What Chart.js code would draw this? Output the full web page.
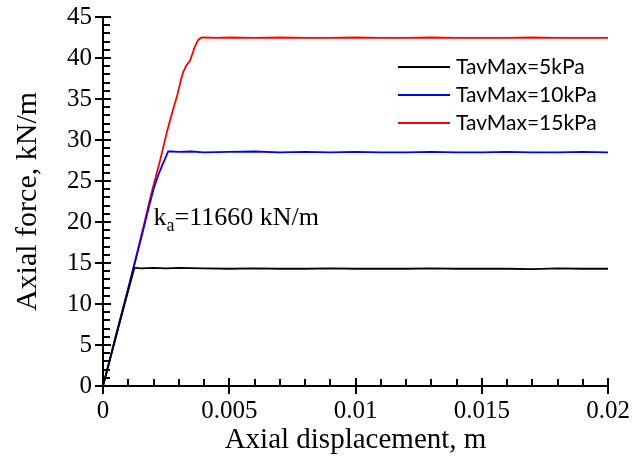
<!DOCTYPE html>
<html>
<head>
<meta charset="utf-8">
<script src="https://cdn.jsdelivr.net/npm/chart.js@4/dist/chart.umd.min.js"></script>
<style>
  html, body { margin: 0; padding: 0; background: #fff; }
  #wrap { width: 632px; height: 460px; }
</style>
</head>
<body>
<div id="wrap"><canvas id="c" width="632" height="460"></canvas></div>
<script>
// ── data ──
const seriesNames = ['TavMax=5kPa', 'TavMax=10kPa', 'TavMax=15kPa'];
const seriesColors = ['#000000', '#0000ff', '#ff0000'];

const disp5 = [0, 0.0003, 0.0006, 0.0009, 0.00124, 0.0013, 0.0015, 0.002, 0.0025, 0.003, 0.004, 0.005, 0.006, 0.007, 0.008, 0.009, 0.01, 0.011, 0.012, 0.013, 0.014, 0.015, 0.016, 0.017, 0.018, 0.019, 0.02];
const force5 = [0, 3.5, 7.0, 10.5, 14.4, 14.4, 14.35, 14.4, 14.35, 14.4, 14.35, 14.3, 14.35, 14.3, 14.3, 14.35, 14.3, 14.3, 14.3, 14.35, 14.3, 14.3, 14.3, 14.25, 14.35, 14.3, 14.3];

const disp10 = [0, 0.0005, 0.001, 0.0015, 0.0018, 0.002, 0.0022, 0.0024, 0.00258, 0.0027, 0.003, 0.0035, 0.004, 0.005, 0.006, 0.007, 0.008, 0.009, 0.01, 0.011, 0.012, 0.013, 0.014, 0.015, 0.016, 0.017, 0.018, 0.019, 0.02];
const force10 = [0, 6.0, 11.9, 17.9, 21.6, 24.0, 25.8, 27.3, 28.6, 28.6, 28.55, 28.6, 28.5, 28.55, 28.6, 28.5, 28.55, 28.5, 28.55, 28.5, 28.5, 28.55, 28.5, 28.5, 28.55, 28.5, 28.5, 28.55, 28.5];

const disp15 = [0, 0.0005, 0.001, 0.0013, 0.0016, 0.0019, 0.00226, 0.00255, 0.0028, 0.00292, 0.0031, 0.00318, 0.0033, 0.00345, 0.00364, 0.00377, 0.0039, 0.004, 0.0045, 0.005, 0.006, 0.007, 0.008, 0.009, 0.01, 0.011, 0.012, 0.013, 0.014, 0.015, 0.016, 0.017, 0.018, 0.019, 0.02];
const force15 = [0, 6.0, 11.9, 15.6, 19.4, 23.3, 27.5, 31.2, 34.0, 35.2, 37.5, 38.3, 39.1, 39.7, 41.4, 42.2, 42.5, 42.5, 42.45, 42.5, 42.45, 42.5, 42.45, 42.45, 42.5, 42.45, 42.45, 42.5, 42.45, 42.45, 42.45, 42.5, 42.45, 42.45, 42.45];

const xTicks = [0, 0.005, 0.01, 0.015, 0.02];
const yTicks = [0, 5, 10, 15, 20, 25, 30, 35, 40, 45];
const kaNote = { x: 0.002, y: 19.6, main: 'k', sub: 'a', rest: '=11660 kN/m' };

const serif = '"Liberation Serif", "Times New Roman", serif';
const sans = 'Lato, "Liberation Sans", sans-serif';

function pts(xs, ys) { return xs.map((x, i) => ({ x: x, y: ys[i] })); }

// axes with major ticks crossing and minor ticks inside
const axesPlugin = {
  id: 'axesDraw',
  afterDraw(chart) {
    const { ctx, scales: { x, y } } = chart;
    const x0 = Math.round(x.getPixelForValue(0)), x1 = Math.round(x.getPixelForValue(0.02));
    const y0 = Math.round(y.getPixelForValue(0)), y1 = Math.round(y.getPixelForValue(45));
    ctx.save();
    ctx.fillStyle = '#000';
    ctx.fillRect(x0 - 1, y1 - 1, 2, y0 - y1 + 2);
    ctx.fillRect(x0 - 1, y0 - 1, x1 - x0 + 2, 2);
    for (let v = 0; v <= 45; v++) {
      const py = Math.round(y.getPixelForValue(v));
      if (v % 5 === 0) ctx.fillRect(x0 - 8, py - 1, 16, 2);
      else ctx.fillRect(x0, py - 1, 7, 2);
    }
    for (let i = 0; i <= 20; i++) {
      const px = Math.round(x.getPixelForValue(i * 0.001));
      if (i % 5 === 0) ctx.fillRect(px - 1, y0 - 8, 2, 16);
      else ctx.fillRect(px - 1, y0 - 7, 2, 7);
    }

    // stiffness note
    const nx = x.getPixelForValue(kaNote.x), ny = y.getPixelForValue(kaNote.y);
    ctx.textBaseline = 'alphabetic';
    ctx.textAlign = 'left';
    ctx.font = '26px ' + serif;
    ctx.fillText(kaNote.main, nx, ny);
    let w = ctx.measureText(kaNote.main).width;
    ctx.font = '18px ' + serif;
    ctx.fillText(kaNote.sub, nx + w, ny + 6);
    w += ctx.measureText(kaNote.sub).width;
    ctx.font = '26px ' + serif;
    ctx.fillText(kaNote.rest, nx + w, ny);

    // legend
    ctx.font = '21px ' + sans;
    ctx.textBaseline = 'middle';
    chart.data.datasets.forEach((ds, i) => {
      const ly = 67 + i * 28;
      ctx.fillStyle = ds.borderColor;
      ctx.fillRect(398, ly - 1, 52, 2);
      ctx.fillStyle = '#000';
      ctx.fillText(ds.label, 456, ly);
    });
    ctx.restore();
  }
};

new Chart(document.getElementById('c'), {
  type: 'scatter',
  data: {
    datasets: [
      { label: seriesNames[0], data: pts(disp5, force5) },
      { label: seriesNames[1], data: pts(disp10, force10) },
      { label: seriesNames[2], data: pts(disp15, force15) }
    ].map((d, i) => Object.assign(d, {
      showLine: true, borderColor: seriesColors[i], backgroundColor: seriesColors[i],
      borderWidth: 1.8, pointRadius: 0, tension: 0
    }))
  },
  options: {
    responsive: false,
    animation: false,
    layout: { autoPadding: false, padding: { top: 17, right: 24, left: 0, bottom: 0 } },
    plugins: { legend: { display: false }, tooltip: { enabled: false } },
    scales: {
      x: {
        type: 'linear', min: 0, max: 0.02,
        afterBuildTicks: s => { s.ticks = xTicks.map(v => ({ value: v })); },
        afterFit: s => { s.height = 74; s.paddingLeft = 0; s.paddingRight = 0; },
        grid: { display: false, drawTicks: false },
        border: { display: false },
        ticks: {
          padding: 10, color: '#000', font: { family: serif, size: 25 },
          callback: v => String(+v.toFixed(3))
        },
        title: {
          display: true, text: 'Axial displacement, m', color: '#000',
          font: { family: serif, size: 29 }, padding: { top: 0, bottom: 2 }
        }
      },
      y: {
        type: 'linear', min: 0, max: 45,
        afterBuildTicks: s => { s.ticks = yTicks.map(v => ({ value: v })); },
        afterFit: s => { s.width = 103; s.paddingTop = 0; s.paddingBottom = 0; },
        grid: { display: false, drawTicks: false },
        border: { display: false },
        ticks: { padding: 11, color: '#000', font: { family: serif, size: 25 } },
        title: {
          display: true, text: 'Axial force, kN/m', color: '#000',
          font: { family: serif, size: 30 }, padding: { top: 10, bottom: 0 }
        }
      }
    }
  },
  plugins: [axesPlugin]
});
</script>
</body>
</html>
